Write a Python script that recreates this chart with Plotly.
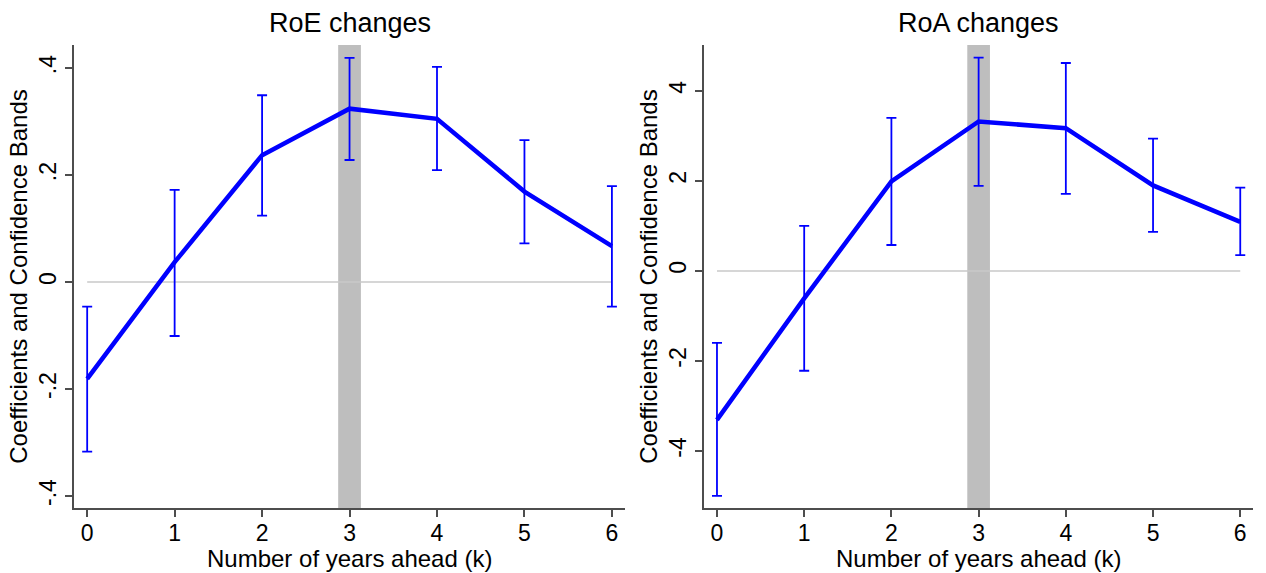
import plotly.graph_objects as go

k = [0, 1, 2, 3, 4, 5, 6]

roe_coef = [-0.181, 0.037, 0.237, 0.324, 0.305, 0.169, 0.067]
roe_hi = [-0.046, 0.172, 0.349, 0.419, 0.402, 0.265, 0.179]
roe_lo = [-0.317, -0.101, 0.124, 0.228, 0.209, 0.072, -0.046]

roa_coef = [-3.31, -0.61, 1.99, 3.32, 3.17, 1.90, 1.09]
roa_hi = [-1.60, 1.00, 3.40, 4.74, 4.62, 2.94, 1.85]
roa_lo = [-5.00, -2.22, 0.575, 1.89, 1.71, 0.867, 0.35]

roe_ticks = [-0.4, -0.2, 0, 0.2, 0.4]
roe_ticklabels = ["-.4", "-.2", "0", ".2", ".4"]
roa_ticks = [-4, -2, 0, 2, 4]
roa_ticklabels = ["-4", "-2", "0", "2", "4"]

titles = ["RoE changes", "RoA changes"]
x_title = "Number of years ahead (k)"
y_title = "Coefficients and Confidence Bands"
highlight_k = 3

BLUE = "#0000ff"
GRAY = "#bebebe"
AX = "#4d4d4d"
FONT = "Liberation Sans, Arial, sans-serif"

fig = go.Figure()

panels = [
    (roe_coef, roe_hi, roe_lo, "x", "y"),
    (roa_coef, roa_hi, roa_lo, "x2", "y2"),
]

for coef, hi, lo, xa, ya in panels:
    # zero reference line
    fig.add_trace(go.Scatter(x=[k[0], k[-1]], y=[0, 0], mode="lines",
                             line=dict(color="#c8c8c8", width=1.5),
                             xaxis=xa, yaxis=ya, showlegend=False, hoverinfo="skip"))
    # confidence bands
    fig.add_trace(go.Scatter(
        x=k, y=coef, mode="none", xaxis=xa, yaxis=ya, showlegend=False,
        error_y=dict(type="data", symmetric=False,
                     array=[h - c for h, c in zip(hi, coef)],
                     arrayminus=[c - l for c, l in zip(coef, lo)],
                     color=BLUE, thickness=1.8, width=5)))
    # coefficients
    fig.add_trace(go.Scatter(x=k, y=coef, mode="lines",
                             line=dict(color=BLUE, width=4.5),
                             xaxis=xa, yaxis=ya, showlegend=False))

for xa in ["x", "x2"]:
    fig.add_shape(type="rect", xref=xa, yref=("y domain" if xa == "x" else "y2 domain"),
                  x0=highlight_k - 0.13, x1=highlight_k + 0.13, y0=0, y1=1,
                  fillcolor=GRAY, line=dict(width=0), layer="below")

common_x = dict(range=[-0.15, 6.15], tickmode="array", tickvals=k,
                ticktext=[str(v) for v in k], showgrid=False, zeroline=False,
                showline=True, linecolor=AX, linewidth=2, ticks="outside",
                ticklen=7, tickwidth=1.5, tickcolor=AX, ticklabelstandoff=-4,
                tickfont=dict(size=23, color="black", family=FONT))
common_y = dict(showgrid=False, zeroline=False, showline=True, linecolor=AX,
                linewidth=2, ticks="outside", ticklen=7, tickwidth=1.5, tickcolor=AX,
                tickangle=-90, tickfont=dict(size=23, color="black", family=FONT),
                title=dict(text=y_title,
                           font=dict(size=24, color="black", family=FONT), standoff=0))

dom_left = [0.0585, 0.4937]
dom_right = [0.556, 0.990]

annotations = []
for dom, t in zip([dom_left, dom_right], titles):
    cx = (dom[0] + dom[1]) / 2
    annotations.append(dict(text=t, x=cx, y=1 - 23 / 573, xref="paper", yref="paper",
                            showarrow=False, font=dict(size=27, color="black", family=FONT),
                            xanchor="center", yanchor="middle"))
    annotations.append(dict(text=x_title, x=cx, y=1 - 558 / 573, xref="paper", yref="paper",
                            showarrow=False, font=dict(size=24, color="black", family=FONT),
                            xanchor="center", yanchor="middle"))

fig.update_layout(
    width=1266, height=573,
    margin=dict(l=0, r=0, t=0, b=0),
    paper_bgcolor="white", plot_bgcolor="white",
    font=dict(family=FONT, color="black"),
    xaxis=dict(domain=dom_left, anchor="y", **common_x),
    yaxis=dict(domain=[0.1134, 0.9215], anchor="x", range=[-0.4225, 0.443],
               tickmode="array", tickvals=roe_ticks, ticktext=roe_ticklabels, **common_y),
    xaxis2=dict(domain=dom_right, anchor="y2", **common_x),
    yaxis2=dict(domain=[0.1134, 0.9215], anchor="x2", range=[-5.27, 5.02],
                tickmode="array", tickvals=roa_ticks, ticktext=roa_ticklabels, **common_y),
    annotations=annotations,
)

fig.write_html("out.html")
